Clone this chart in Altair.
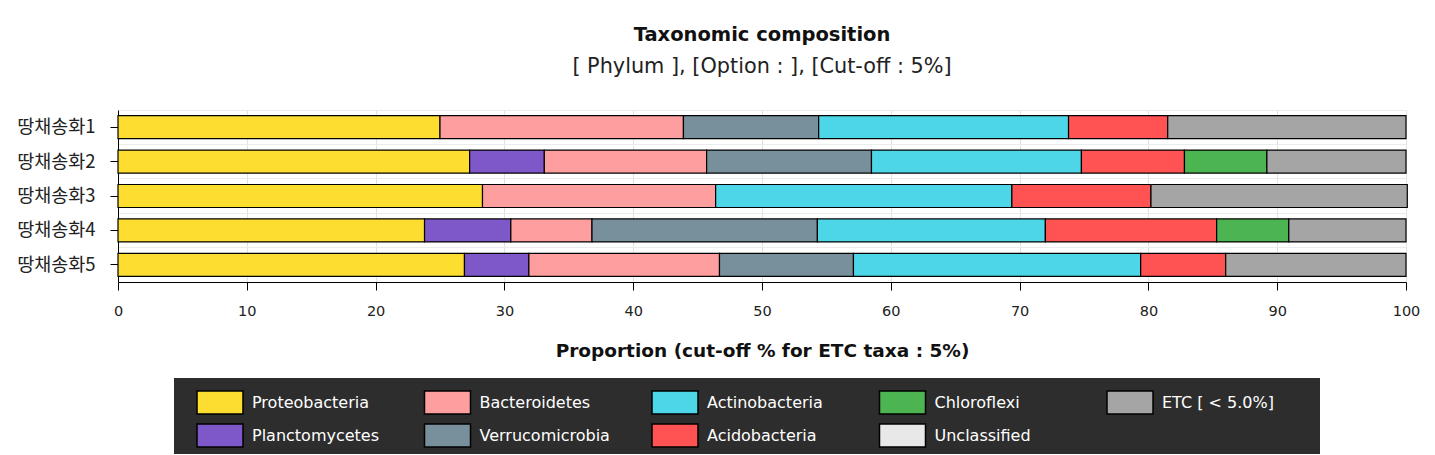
import altair as alt
import pandas as pd

samples = ["땅채송화1", "땅채송화2", "땅채송화3", "땅채송화4", "땅채송화5"]

phyla = ["Proteobacteria", "Planctomycetes", "Bacteroidetes", "Verrucomicrobia",
         "Actinobacteria", "Acidobacteria", "Chloroflexi", "Unclassified", "ETC [ < 5.0%]"]
phyla_colors = ["#FDDD30", "#7E57C8", "#FF9E9E", "#78909C",
                "#4DD6E8", "#FF5252", "#4CB551", "#E8E8E8", "#A5A5A5"]

Proteobacteria = [25.0, 27.3, 28.3, 23.8, 26.9]
Planctomycetes = [0.0, 5.8, 0.0, 6.7, 5.0]
Bacteroidetes = [18.9, 12.6, 18.1, 6.3, 14.8]
Verrucomicrobia = [10.5, 12.8, 0.0, 17.5, 10.4]
Actinobacteria = [19.4, 16.3, 23.0, 17.7, 22.3]
Acidobacteria = [7.7, 8.0, 10.8, 13.3, 6.6]
Chloroflexi = [0.0, 6.4, 0.0, 5.6, 0.0]
Unclassified = [0.0, 0.0, 0.0, 0.0, 0.0]
ETC = [18.5, 10.8, 19.9, 9.1, 14.0]

series = [Proteobacteria, Planctomycetes, Bacteroidetes, Verrucomicrobia,
          Actinobacteria, Acidobacteria, Chloroflexi, Unclassified, ETC]

x_ticks = list(range(0, 101, 10))

rows = []
for i, (name, vals) in enumerate(zip(phyla, series)):
    for s, v in zip(samples, vals):
        if v > 0:
            rows.append({"sample": s, "phylum": name, "value": v, "order": i})
df = pd.DataFrame(rows)

FONT = "DejaVu Sans"
KFONT = "Noto Sans CJK KR"

x_enc = alt.X(
    "value:Q", stack="zero",
    scale=alt.Scale(domain=[0, 100], nice=False),
    title="Proportion (cut-off % for ETC taxa : 5%)",
    axis=alt.Axis(values=x_ticks, grid=True, gridColor="#e2e2e2", domainColor="black",
                  tickColor="black", tickSize=8, labelFont=FONT, labelFontSize=14.5,
                  labelColor="#222", labelPadding=14, labelFlush=False,
                  titleFont=FONT, titleFontSize=18.5, titleFontWeight="bold",
                  titleColor="#111", titlePadding=24),
)

yscale = alt.Scale(paddingInner=0, paddingOuter=0)

grid_layer = alt.Chart(df).mark_bar(opacity=0, height=23).encode(
    x=x_enc,
    y=alt.Y("sample:N", sort=samples, title=None, scale=yscale,
            axis=alt.Axis(orient="left", grid=True, bandPosition=0, gridColor="#ececec",
                          labels=False, ticks=False, domain=False)),
    order=alt.Order("order:Q"),
)

bars = alt.Chart(df).mark_bar(height=23, stroke="black", strokeWidth=1.2).encode(
    x=x_enc,
    y=alt.Y("sample:N", sort=samples, title=None, scale=yscale,
            axis=alt.Axis(orient="left", grid=False, domainColor="black", tickColor="black",
                          tickSize=8, labelPadding=15, labelFont=KFONT, labelFontSize=18.5,
                          labelColor="#222")),
    color=alt.Color(
        "phylum:N",
        scale=alt.Scale(domain=phyla, range=phyla_colors),
        legend=alt.Legend(
            orient="none", legendX=56, legendY=268, columns=5,
            title=" ", titleOrient="right", titleFontSize=1, titlePadding=34,
            fillColor="#2d2d2d", padding=12, symbolType="M-2,-1H2V1H-2Z",
            symbolSize=529, symbolStrokeColor="black", symbolStrokeWidth=1.5,
            symbolOpacity=1, labelColor="white", labelFont=FONT, labelFontSize=16,
            labelOffset=19.5, symbolOffset=21.5, columnPadding=30.5, rowPadding=4,
            gridAlign="all", labelLimit=300,
        ),
    ),
    order=alt.Order("order:Q"),
)

chart = alt.layer(grid_layer, bars).resolve_axis(y="independent").properties(
    width=1288, height=172,
    padding={"left": 110, "top": 102, "right": 20, "bottom": 172},
    autosize=alt.AutoSizeParams(type="none"),
    title=alt.TitleParams(
        text="Taxonomic composition",
        subtitle="[ Phylum ], [Option : ], [Cut-off : 5%]",
        font=FONT, fontSize=19.5, fontWeight="bold", color="#111",
        subtitleFont=FONT, subtitleFontSize=20.8, subtitleColor="#222",
        anchor="middle", offset=32, subtitlePadding=12,
    ),
).configure_view(stroke=None)

chart.save("out.html", embed_options={"renderer": "svg", "actions": False})
